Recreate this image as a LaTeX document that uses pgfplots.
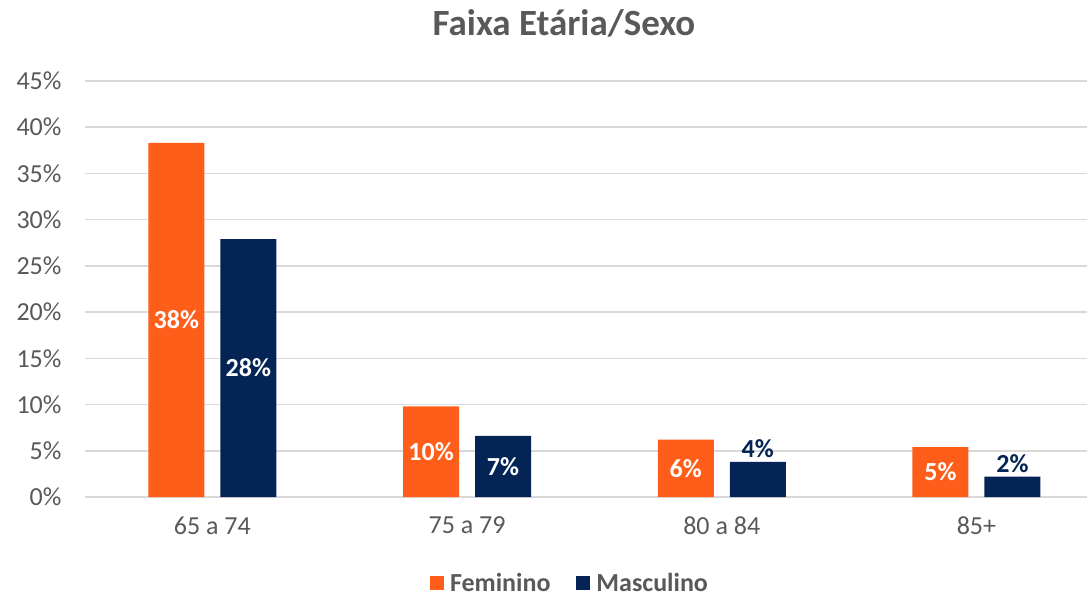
\documentclass[border=0pt]{standalone}
\usepackage{fontspec}
\setmainfont{Carlito}
\usepackage{pgfplots}
\usepackage{pgfplotstable}
\pgfplotsset{compat=1.18}
\definecolor{fem}{HTML}{FF5E1A}
\definecolor{masc}{HTML}{042455}
\definecolor{txt}{HTML}{595959}
\definecolor{gridc}{HTML}{D9D9D9}

\pgfplotstableread{
x y lab
0 38.3 38
1 9.8 10
2 6.2 6
3 5.4 5
}\femtab
\pgfplotstableread{
x y lab
0 27.9 28
1 6.6 7
2 3.8 4
3 2.2 2
}\mastab

\begin{document}
\begin{tikzpicture}
\begin{axis}[
  at={(0pt,0pt)}, anchor=south west,
  scale only axis, width=1002pt, height=416pt,
  xmin=-0.5, xmax=3.434, ymin=0, ymax=45,
  axis line style={draw=none},
  ymajorgrids, grid style={gridc, line width=1.6pt},
  xtick={0,1,2,3}, xticklabels={65 a 74, 75 a 79, 80 a 84, 85+},
  major tick length=0pt,
  ytick={0,5,...,45},
  yticklabel={\pgfmathprintnumber{\tick}\%},
  /pgf/number format/assume math mode=true,
  tick label style={font=\fontsize{26}{30}\selectfont, text=txt},
  xticklabel style={yshift=-16pt},
  yticklabel style={xshift=-20pt},
  title={Faixa Etária/Sexo},
  title style={font=\bfseries\fontsize{37}{44}\selectfont, text=txt, at={(0.478,1.123)}, anchor=center},
  legend style={at={(0.484,-0.207)}, anchor=center, draw=none, legend columns=2,
    font=\bfseries\fontsize{26}{30}\selectfont, text=txt,
    /tikz/every odd column/.append style={column sep=4pt},
    /tikz/every even column/.append style={column sep=24pt}},
]
\addplot[ybar, bar width=56pt, bar shift=-36pt, fill=fem, draw=none,
  legend image code/.code={\fill[fem] (0pt,-7pt) rectangle (14pt,7pt);}]
  table[x=x,y=y]{\femtab};
\addlegendentry{Feminino}
\addplot[ybar, bar width=56pt, bar shift=36pt, fill=masc, draw=none,
  legend image code/.code={\fill[masc] (0pt,-7pt) rectangle (14pt,7pt);}]
  table[x=x,y=y]{\mastab};
\addlegendentry{Masculino}
% labels inside bars
\addplot[forget plot, draw=none, mark=none, nodes near coords={\pgfplotspointmeta\%},
  point meta=explicit symbolic,
  every node near coord/.style={anchor=center, xshift=-36pt, font=\bfseries\fontsize{26}{30}\selectfont, text=white}]
  table[x=x, y expr=\thisrow{y}/2, meta=lab]{\femtab};
\addplot[forget plot, draw=none, mark=none, nodes near coords={\pgfplotspointmeta\%},
  point meta=explicit symbolic,
  every node near coord/.style={anchor=center, xshift=36pt, font=\bfseries\fontsize{26}{30}\selectfont, text=white}]
  table[x=x, y expr=\thisrow{y}/2, meta=lab]{
x y lab
0 27.9 28
1 6.6 7
};
\addplot[forget plot, draw=none, mark=none, nodes near coords={\pgfplotspointmeta\%},
  point meta=explicit symbolic,
  every node near coord/.style={anchor=south, xshift=36pt, yshift=2pt, inner sep=2pt, font=\bfseries\fontsize{26}{30}\selectfont, text=masc}]
  table[x=x, y=y, meta=lab]{
x y lab
2 3.8 4
3 2.2 2
};
\end{axis}
\pgfresetboundingbox
\path[use as bounding box] (-85pt,-101pt) rectangle (1002pt,497pt);
\end{tikzpicture}
\end{document}
